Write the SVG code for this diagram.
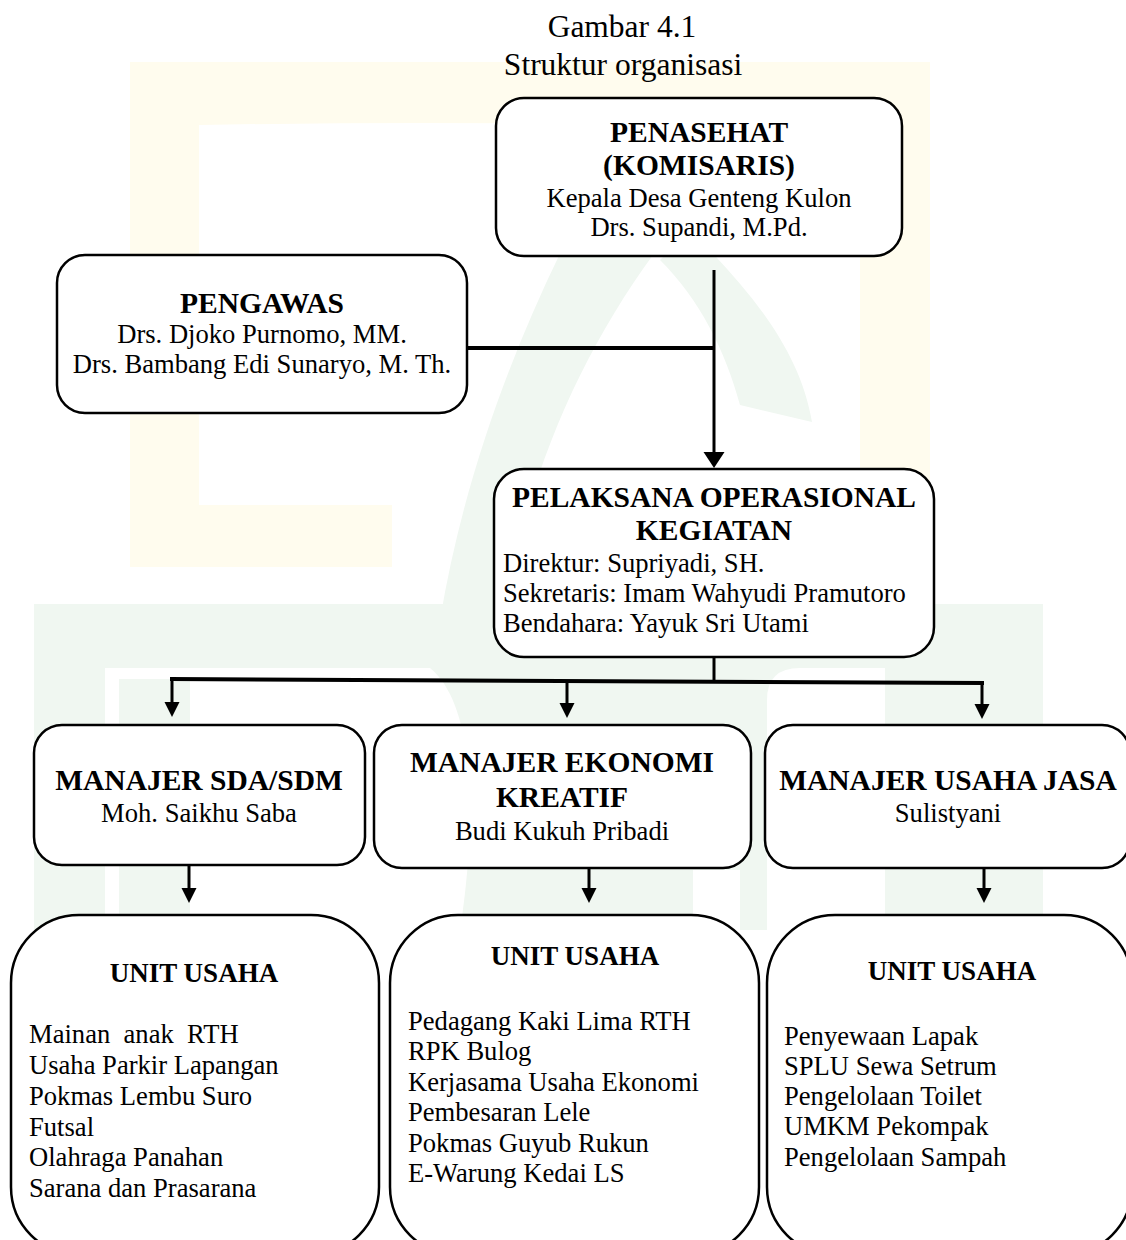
<svg xmlns="http://www.w3.org/2000/svg" width="1126" height="1240" viewBox="0 0 1126 1240">
<style>
.box{fill:#fff;stroke:#000;stroke-width:2.5}
text{font-family:'Liberation Serif','Times New Roman',serif;fill:#000}
.b{font-weight:bold;font-size:29.5px}
.u{font-weight:bold;font-size:27px}
.n{font-size:26.6px}
.ti{font-size:31.5px}
.c{text-anchor:middle}
.ln{stroke:#000;fill:none;stroke-width:3}
.wy{fill:#fffcee}
.wg{fill:#f0f7f1}
.ww{fill:#fff}
</style>
<defs>
<marker id="ah" markerUnits="userSpaceOnUse" markerWidth="16" markerHeight="16" refX="1" refY="8" orient="auto">
<path d="M0,0.5 L15,8 L0,15.5 Z" fill="#000"/>
</marker>
<marker id="ahL" markerUnits="userSpaceOnUse" markerWidth="18" markerHeight="22" refX="1" refY="11" orient="auto">
<path d="M0,0.5 L16,11 L0,21.5 Z" fill="#000"/>
</marker>
</defs>
<rect width="1126" height="1240" fill="#fff"/>
<g id="watermark">
<path class="wy" d="M130,62 L930,62 L930,620 L860,620 L860,135 Q600,118 199,125 L199,505 L392,505 L392,567 L130,567 Z"/>
<path class="wg" d="M620,140 C540,280 470,440 440,620 L505,620 C525,470 590,330 680,220 Z"/>
<path class="wg" d="M690,230 C750,290 800,350 812,422 L740,405 C725,350 700,300 660,260 Z"/>
<path class="wg" d="M34,604 L1043,604 L1043,930 L34,930 Z"/>
<path class="ww" d="M105,668 L430,668 C470,700 480,800 460,930 L105,930 Z"/>
<path class="wg" d="M119,679 L190,679 L190,930 L119,930 Z"/>
<path class="ww" d="M800,668 L885,668 L885,930 L767,930 L767,700 Q767,668 800,668 Z"/>
<path class="ww" d="M693,870 L740,870 L740,930 L693,930 Z"/>
</g>
<g id="title">
<text class="ti c" x="622" y="37">Gambar 4.1</text>
<text class="ti c" x="623" y="75">Struktur organisasi</text>
</g>
<g id="connectors">
<line class="ln" x1="714" y1="270" x2="714" y2="453" marker-end="url(#ahL)"/>
<line class="ln" x1="467" y1="348" x2="714" y2="348" style="stroke-width:4"/>
<line class="ln" x1="714" y1="657" x2="714" y2="681"/>
<line class="ln" x1="170" y1="679" x2="984" y2="683" style="stroke-width:4"/>
<line class="ln" x1="172" y1="679" x2="172" y2="703" marker-end="url(#ah)"/>
<line class="ln" x1="567" y1="681" x2="567" y2="704" marker-end="url(#ah)"/>
<line class="ln" x1="982" y1="683" x2="982" y2="705" marker-end="url(#ah)"/>
<line class="ln" x1="189" y1="865" x2="189" y2="889" marker-end="url(#ah)"/>
<line class="ln" x1="589" y1="868" x2="589" y2="889" marker-end="url(#ah)"/>
<line class="ln" x1="984" y1="868" x2="984" y2="889" marker-end="url(#ah)"/>
</g>
<g id="penasehat">
<rect class="box" x="496" y="98" width="406" height="158" rx="28"/>
<text class="b c" x="699" y="142">PENASEHAT</text>
<text class="b c" x="699" y="175">(KOMISARIS)</text>
<text class="n c" x="699" y="207">Kepala Desa Genteng Kulon</text>
<text class="n c" x="699" y="236">Drs. Supandi, M.Pd.</text>
</g>
<g id="pengawas">
<rect class="box" x="57" y="255" width="410" height="158" rx="28"/>
<text class="b c" x="262" y="313">PENGAWAS</text>
<text class="n c" x="262" y="343">Drs. Djoko Purnomo, MM.</text>
<text class="n c" x="262" y="373">Drs. Bambang Edi Sunaryo, M. Th.</text>
</g>
<g id="pelaksana">
<rect class="box" x="494" y="469" width="440" height="188" rx="30"/>
<text class="b c" x="714" y="507">PELAKSANA OPERASIONAL</text>
<text class="b c" x="714" y="540">KEGIATAN</text>
<text class="n" x="503" y="572">Direktur: Supriyadi, SH.</text>
<text class="n" x="503" y="602">Sekretaris: Imam Wahyudi Pramutoro</text>
<text class="n" x="503" y="632">Bendahara: Yayuk Sri Utami</text>
</g>
<g id="manajer-sda">
<rect class="box" x="34" y="725" width="331" height="140" rx="28"/>
<text class="b c" x="199" y="790">MANAJER SDA/SDM</text>
<text class="n c" x="199" y="822">Moh. Saikhu Saba</text>
</g>
<g id="manajer-ekonomi">
<rect class="box" x="374" y="725" width="377" height="143" rx="28"/>
<text class="b c" x="562" y="772">MANAJER EKONOMI</text>
<text class="b c" x="562" y="807">KREATIF</text>
<text class="n c" x="562" y="840">Budi Kukuh Pribadi</text>
</g>
<g id="manajer-jasa">
<rect class="box" x="765" y="725" width="365" height="143" rx="28"/>
<text class="b c" x="948" y="790">MANAJER USAHA JASA</text>
<text class="n c" x="948" y="822">Sulistyani</text>
</g>
<g id="unit-sda">
<rect class="box" x="11" y="915" width="368" height="340" rx="68"/>
<text class="u c" x="194" y="982">UNIT USAHA</text>
<text class="n" x="29" y="1043" xml:space="preserve">Mainan  anak  RTH</text>
<text class="n" x="29" y="1074">Usaha Parkir Lapangan</text>
<text class="n" x="29" y="1105">Pokmas Lembu Suro</text>
<text class="n" x="29" y="1136">Futsal</text>
<text class="n" x="29" y="1166">Olahraga Panahan</text>
<text class="n" x="29" y="1197">Sarana dan Prasarana</text>
</g>
<g id="unit-ekonomi">
<rect class="box" x="390" y="915" width="369" height="340" rx="68"/>
<text class="u c" x="575" y="965">UNIT USAHA</text>
<text class="n" x="408" y="1030">Pedagang Kaki Lima RTH</text>
<text class="n" x="408" y="1060">RPK Bulog</text>
<text class="n" x="408" y="1091">Kerjasama Usaha Ekonomi</text>
<text class="n" x="408" y="1121">Pembesaran Lele</text>
<text class="n" x="408" y="1152">Pokmas Guyub Rukun</text>
<text class="n" x="408" y="1182">E-Warung Kedai LS</text>
</g>
<g id="unit-jasa">
<rect class="box" x="767" y="915" width="365" height="340" rx="68"/>
<text class="u c" x="952" y="980">UNIT USAHA</text>
<text class="n" x="784" y="1045">Penyewaan Lapak</text>
<text class="n" x="784" y="1075">SPLU Sewa Setrum</text>
<text class="n" x="784" y="1105">Pengelolaan Toilet</text>
<text class="n" x="784" y="1135">UMKM Pekompak</text>
<text class="n" x="784" y="1166">Pengelolaan Sampah</text>
</g>
</svg>
